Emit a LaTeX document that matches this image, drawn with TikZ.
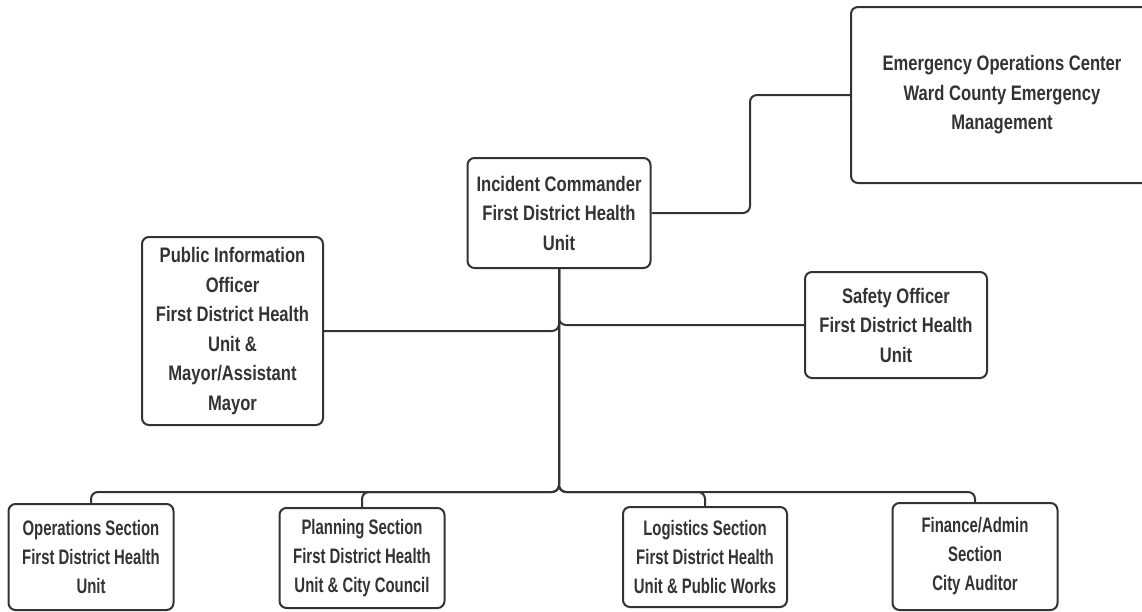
\documentclass[tikz,border=0pt]{standalone}
\usepackage{fontspec}
\newfontfamily\boxfont{Liberation Sans}[FakeStretch=0.79]
\newfontfamily\narrowboxfont{Liberation Sans}[FakeStretch=0.71]
\definecolor{ink}{HTML}{333333}
\begin{document}
\begin{tikzpicture}[x=1pt,y=-1pt,
  box/.style={draw=ink, line width=2pt, rounded corners=7pt, fill=white,
    inner sep=0pt, align=center, text=ink,
    font=\boxfont\bfseries\fontsize{21}{29.5}\selectfont},
  lowbox/.style={box, font=\narrowboxfont\bfseries\fontsize{21}{29}\selectfont},
  conn/.style={draw=ink, line width=2pt, rounded corners=7pt}]
\useasboundingbox (0,0) rectangle (1142,611);
\clip (0,0) rectangle (1142,611);
\fill[white] (0,0) rectangle (1142,611);

\node[box, minimum width=183pt, minimum height=110pt] (IC) at (559,213)
  {Incident Commander\\First District Health\\Unit};
\node[box, minimum width=302pt, minimum height=176pt] (EOC) at (1002,95)
  {Emergency Operations Center\\Ward County Emergency\\Management};
\node[box, minimum width=181pt, minimum height=188pt] (PIO) at (232.5,331)
  {Public Information\\Officer\\First District Health\\Unit \&\\Mayor/Assistant\\Mayor};
\node[box, minimum width=182pt, minimum height=106pt] (SO) at (896,325)
  {Safety Officer\\First District Health\\Unit};
\node[lowbox, minimum width=165pt, minimum height=106pt] (OPS) at (91,557)
  {Operations Section\\First District Health\\Unit};
\node[lowbox, minimum width=165pt, minimum height=100pt] (PLAN) at (362,558)
  {Planning Section\\First District Health\\Unit \& City Council};
\node[lowbox, minimum width=164pt, minimum height=100pt] (LOG) at (705,557)
  {Logistics Section\\First District Health\\Unit \& Public Works};
\node[lowbox, minimum width=165pt, minimum height=107pt] (FIN) at (975,556.5)
  {Finance/Admin\\Section\\City Auditor};

\coordinate (bus) at (559,492);
\coordinate (eocturn) at (750,213);

\draw[conn] (IC.east) -- (eocturn) |- (EOC.west);
\draw[conn] (IC.south) |- (SO.west);
\draw[conn] (IC.south) |- (PIO.east);
\draw[conn] (IC.south) -- (bus) -| (OPS.north);
\draw[conn] (IC.south) -- (bus) -| (PLAN.north);
\draw[conn] (IC.south) -- (bus) -| (LOG.north);
\draw[conn] (IC.south) -- (bus) -| (FIN.north);
\end{tikzpicture}
\end{document}
